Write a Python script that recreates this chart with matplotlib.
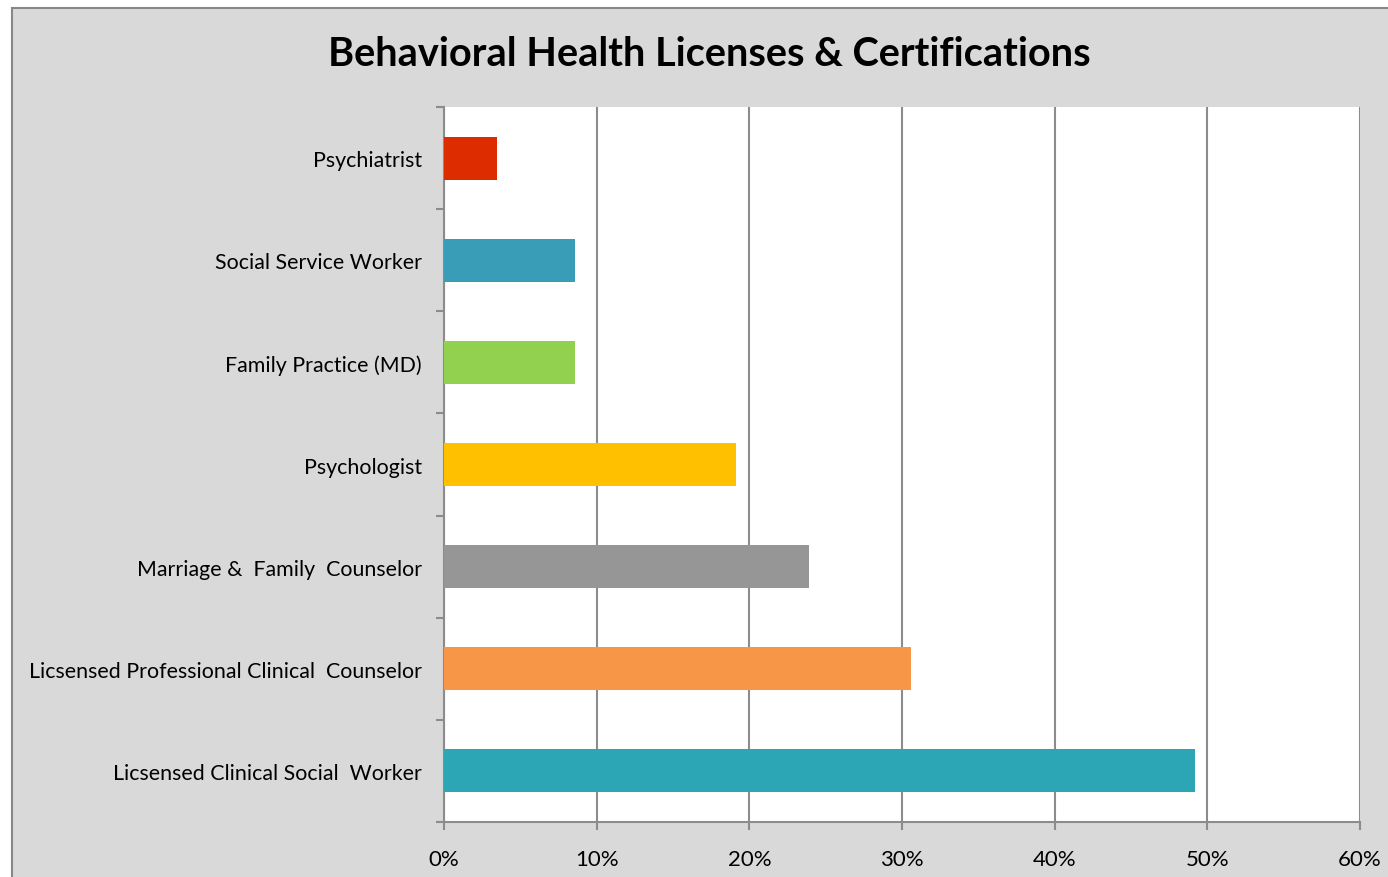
import matplotlib
matplotlib.use('Agg')
import matplotlib.pyplot as plt
import matplotlib.transforms as mtransforms
from matplotlib.patches import Rectangle
from matplotlib.ticker import FixedLocator

# Datos del grafico (de abajo hacia arriba)
categories = ['Licsensed Clinical Social  Worker',
              'Licsensed Professional Clinical  Counselor',
              'Marriage &  Family  Counselor',
              'Psychologist',
              'Family Practice (MD)',
              'Social Service Worker',
              'Psychiatrist']
values = [49.2, 30.6, 23.9, 19.1, 8.6, 8.6, 3.5]
colors = ['#2CA5B4', '#F79646', '#969696', '#FFC000', '#92D050', '#3A9DB8', '#DD2C00']
x_ticks = [0, 10, 20, 30, 40, 50, 60]

plt.rcParams['font.family'] = ['Lato', 'DejaVu Sans']

fig = plt.figure(figsize=(13.88, 8.77), dpi=100, facecolor='white')
# Marco gris del grafico
fig.patches.append(Rectangle((12 / 1388, -0.1), 1.2, 1.1 + (877 - 8) / 877 - 1.0,
                             transform=fig.transFigure, facecolor='#D9D9D9',
                             edgecolor='#888888', linewidth=1.5, zorder=-10))

ax = fig.add_axes([444 / 1388, 1 - 822 / 877, (1360 - 444) / 1388, (822 - 107) / 877])
ax.set_facecolor('white')

y = list(range(len(categories)))
ax.barh(y, values, height=0.42, color=colors, zorder=3)

ax.set_xlim(0, 60)
ax.set_ylim(-0.5, len(categories) - 0.5)
ax.set_xticks(x_ticks)
ax.set_xticklabels([f'{t}%' for t in x_ticks], fontsize=16)
ax.xaxis.grid(True, color='#8C8C8C', linewidth=1.5, zorder=0)

# Ticks del eje y en los limites de categoria, etiquetas centradas
ax.yaxis.set_major_locator(FixedLocator([i - 0.5 for i in range(len(categories) + 1)]))
ax.yaxis.set_major_formatter(plt.NullFormatter())
ax.set_yticks(y, minor=True)
ax.set_yticklabels(categories, minor=True, fontsize=15.4, va='center')
ax.tick_params(axis='y', which='minor', length=0, pad=16)
ax.tick_params(axis='y', which='major', length=6, width=1.5, color='#8C8C8C')
ax.tick_params(axis='x', length=6, width=1.5, color='#8C8C8C', pad=14)
offset = mtransforms.ScaledTranslation(0, -3 / 100, fig.dpi_scale_trans)
for lab in ax.get_yticklabels(minor=True):
    lab.set_transform(lab.get_transform() + offset)

for side in ['top', 'right']:
    ax.spines[side].set_visible(False)
for side in ['left', 'bottom']:
    ax.spines[side].set_color('#8C8C8C')
    ax.spines[side].set_linewidth(1.5)

fig.text(709 / 1388, 1 - 54 / 877, 'Behavioral Health Licenses & Certifications',
         ha='center', va='center', fontsize=28.6, fontweight='bold')

fig.savefig('out.png', dpi=100, facecolor=fig.get_facecolor())
